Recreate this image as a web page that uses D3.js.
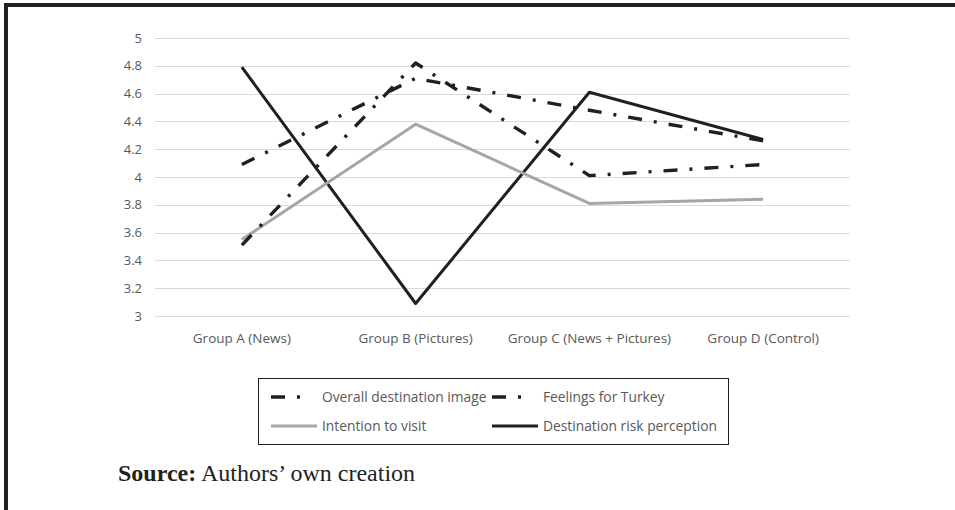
<!DOCTYPE html>
<html>
<head>
<meta charset="utf-8">
<script src="https://cdn.jsdelivr.net/npm/d3@7"></script>
<style>
  body { margin: 0; background: #fff; }
  svg { display: block; }
</style>
</head>
<body>
<div id="chart"></div>
<script>
// Chart data
var groups = ['Group A (News)', 'Group B (Pictures)', 'Group C (News + Pictures)', 'Group D (Control)'];
var yTicks = [3, 3.2, 3.4, 3.6, 3.8, 4, 4.2, 4.4, 4.6, 4.8, 5];
var overallImage = [4.09, 4.71, 4.48, 4.26];
var feelingsTurkey = [3.51, 4.82, 4.01, 4.09];
var intentionVisit = [3.55, 4.38, 3.81, 3.84];
var riskPerception = [4.79, 3.09, 4.61, 4.27];

var seriesNames = ['Overall destination image', 'Feelings for Turkey', 'Intention to visit', 'Destination risk perception'];

var W = 955, H = 510;
var plot = {left: 155, right: 850, top: 38, bottom: 316};

var styles = {
  dashDot: {stroke: '#231f20', width: 3.4, dash: '14,12,3,12', legendLen: 31},
  grey: {stroke: '#a6a6a6', width: 3, dash: null, legendLen: 46},
  solid: {stroke: '#231f20', width: 3, dash: null, legendLen: 46}
};

var series = [
  {name: seriesNames[0], values: overallImage, style: styles.dashDot},
  {name: seriesNames[1], values: feelingsTurkey, style: styles.dashDot},
  {name: seriesNames[2], values: intentionVisit, style: styles.grey},
  {name: seriesNames[3], values: riskPerception, style: styles.solid}
];

var svg = d3.select('#chart').append('svg')
  .attr('width', W)
  .attr('height', H);

// frame
svg.append('rect')
  .attr('x', 6).attr('y', 5)
  .attr('width', W + 10).attr('height', H + 10)
  .attr('fill', 'none')
  .attr('stroke', '#231f20')
  .attr('stroke-width', 4);

var x = d3.scaleBand()
  .domain(groups)
  .range([plot.left, plot.right]);

var y = d3.scaleLinear()
  .domain([3, 5])
  .range([plot.bottom, plot.top]);

// gridlines
svg.append('g')
  .selectAll('line')
  .data(yTicks)
  .enter()
  .append('line')
  .attr('x1', plot.left).attr('x2', plot.right)
  .attr('y1', function(d) { return Math.round(y(d)) + 0.5; })
  .attr('y2', function(d) { return Math.round(y(d)) + 0.5; })
  .attr('stroke', '#d9d9d9')
  .attr('stroke-width', 1.2);

var labelFont = '"Open Sans", sans-serif';

// y axis labels
var yAxis = d3.axisLeft(y)
  .tickValues(yTicks)
  .tickFormat(function(d) { return String(+d.toFixed(1)); })
  .tickSize(0)
  .tickPadding(13);

svg.append('g')
  .attr('transform', 'translate(' + plot.left + ',0)')
  .call(yAxis)
  .call(function(g) { g.select('.domain').remove(); })
  .selectAll('text')
  .attr('font-family', labelFont)
  .attr('font-size', '13px')
  .attr('fill', '#595959');

// x axis labels
var xAxis = d3.axisBottom(x).tickSize(0).tickPadding(17);
svg.append('g')
  .attr('transform', 'translate(0,' + plot.bottom + ')')
  .call(xAxis)
  .call(function(g) { g.select('.domain').remove(); })
  .selectAll('text')
  .attr('font-family', labelFont)
  .attr('font-size', '13.5px')
  .attr('fill', '#595959');

// lines
var line = d3.line()
  .x(function(d, i) { return x(groups[i]) + x.bandwidth() / 2; })
  .y(function(d) { return y(d); });

svg.append('g')
  .selectAll('path')
  .data(series.slice().reverse())
  .enter()
  .append('path')
  .attr('d', function(s) { return line(s.values); })
  .attr('fill', 'none')
  .attr('stroke', function(s) { return s.style.stroke; })
  .attr('stroke-width', function(s) { return s.style.width; })
  .attr('stroke-dasharray', function(s) { return s.style.dash; })
  .attr('stroke-linejoin', 'round');

// legend
var legend = {x: 258, y: 378, w: 470, h: 66};
var lg = svg.append('g');
lg.append('rect')
  .attr('x', legend.x + 0.5).attr('y', legend.y + 0.5)
  .attr('width', legend.w).attr('height', legend.h)
  .attr('fill', '#fff')
  .attr('stroke', '#231f20')
  .attr('stroke-width', 1);

var legendPos = [
  {sx: 271, tx: 322, ty: 397},
  {sx: 492, tx: 543, ty: 397},
  {sx: 271, tx: 322, ty: 426},
  {sx: 492, tx: 543, ty: 426}
];

series.forEach(function(s, i) {
  var p = legendPos[i];
  lg.append('line')
    .attr('x1', p.sx).attr('x2', p.sx + s.style.legendLen)
    .attr('y1', p.ty).attr('y2', p.ty)
    .attr('stroke', s.style.stroke)
    .attr('stroke-width', s.style.width)
    .attr('stroke-dasharray', s.style.dash);
  lg.append('text')
    .attr('x', p.tx).attr('y', p.ty)
    .attr('dy', '0.35em')
    .attr('font-family', labelFont)
    .attr('font-size', '13.8px')
    .attr('fill', '#595959')
    .text(s.name);
});

// source note
var note = svg.append('text')
  .attr('x', 118).attr('y', 481)
  .attr('font-family', '"Liberation Serif", "Times New Roman", serif')
  .attr('font-size', '24px')
  .attr('fill', '#231f20');
note.append('tspan').attr('font-weight', 'bold').text('Source:');
note.append('tspan').text(' Authors\u2019 own creation');
</script>
</body>
</html>
